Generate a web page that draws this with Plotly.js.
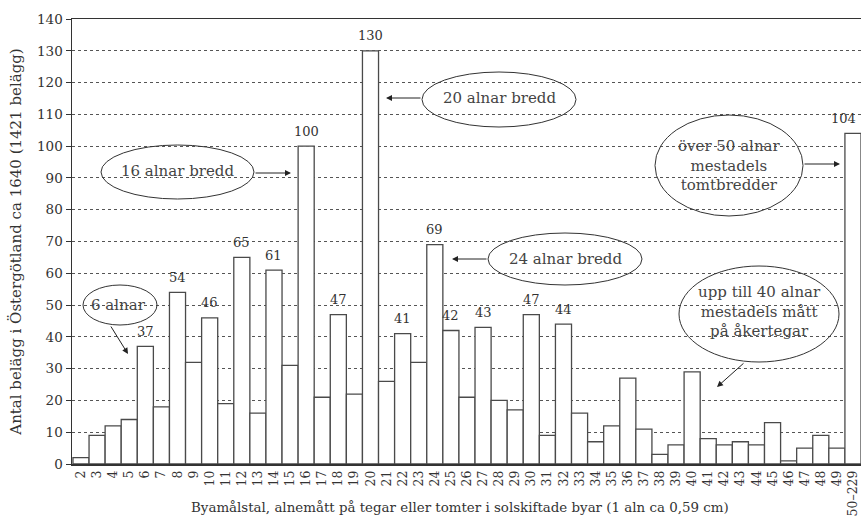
<!DOCTYPE html>
<html>
<head>
<meta charset="utf-8">
<script src="https://cdn.plot.ly/plotly-3.0.1.min.js"></script>
<style>html,body{margin:0;padding:0;background:#fff;}#chart{width:861px;height:521px;}</style>
</head>
<body>
<div id="chart"></div>
<script>
const categories = ['2','3','4','5','6','7','8','9','10','11','12','13','14','15','16','17','18','19','20','21','22','23','24','25','26','27','28','29','30','31','32','33','34','35','36','37','38','39','40','41','42','43','44','45','46','47','48','49','50–229'];
const counts = [2,9,12,14,37,18,54,32,46,19,65,16,61,31,100,21,47,22,130,26,41,32,69,42,21,43,20,17,47,9,44,16,7,12,27,11,3,6,29,8,6,7,6,13,1,5,9,5,104];
const labeledCategories = ['6','8','10','12','14','16','18','20','22','24','25','27','30','32','50–229'];
const yTickValues = [0,10,20,30,40,50,60,70,80,90,100,110,120,130,140];
const xTitle = 'Byamålstal, alnemått på tegar eller tomter i solskiftade byar (1 aln ca 0,59 cm)';
const yTitle = 'Antal belägg i Östergötland ca 1640 (1421 belägg)';

const FONT = 'DejaVu Serif, serif';
const TXT = '#333';

// plot-area pixel helpers (plot area: x 72..861, y 19..464)
const W = 861, H = 521, L = 72, T = 19, B = 57, R = 0;
const pw = W - L - R, ph = H - T - B;
const px = x => (x - L) / pw;
const py = y => (H - B - y) / ph;

const bubbles = [
  {x0:83, x1:157, y0:285, y1:325, text:'6 alnar', tx:118, ty:305, head:[128,354], tail:[110,325]},
  {x0:101, x1:254, y0:145, y1:199, text:'16 alnar bredd', tx:177, ty:171, head:[291,173], tail:[254,173]},
  {x0:422, x1:576, y0:72, y1:127, text:'20 alnar bredd', tx:499, ty:98, head:[386,98], tail:[422,98]},
  {x0:488, x1:642, y0:233, y1:285, text:'24 alnar bredd', tx:565, ty:259, head:[452,259], tail:[488,259]},
  {x0:679, x1:839, y0:266, y1:362, text:'upp till 40 alnar<br>mestadels mått<br>på åkertegar', tx:759, ty:311, head:[717,387], tail:[745,362]},
  {x0:655, x1:803, y0:115, y1:216, text:'över 50 alnar<br>mestadels<br>tomtbredder', tx:729, ty:165, head:[840,164], tail:[803,164]}
];

const shapes = bubbles.map(b => ({
  type:'circle', xref:'paper', yref:'paper',
  x0:px(b.x0), x1:px(b.x1), y0:py(b.y1), y1:py(b.y0),
  line:{color:'#333', width:1}, fillcolor:'rgba(0,0,0,0)', layer:'above'
}));

const annotations = [];
bubbles.forEach(b => {
  annotations.push({xref:'paper', yref:'paper', x:px(b.tx), y:py(b.ty), text:b.text, showarrow:false,
    xanchor:'center', yanchor:'middle', font:{family:FONT, size:15, color:'#444'}});
  annotations.push({xref:'paper', yref:'paper', x:px(b.head[0]), y:py(b.head[1]), text:'',
    showarrow:true, axref:'pixel', ayref:'pixel', ax:b.tail[0]-b.head[0], ay:b.tail[1]-b.head[1],
    arrowhead:2, arrowsize:1.2, arrowwidth:1, arrowcolor:'#222', standoff:0});
});
labeledCategories.forEach(c => {
  const i = categories.indexOf(c);
  annotations.push({xref:'x', yref:'y', x:i, y:counts[i], text:String(counts[i]), showarrow:false,
    xanchor:'center', yanchor:'middle', yshift:15, xshift:(i === categories.length-1 ? -9 : 0),
    font:{family:FONT, size:13, color:TXT}});
});
annotations.push({xref:'paper', yref:'paper', x:px(460), y:py(507), text:xTitle, showarrow:false,
  xanchor:'center', yanchor:'middle', font:{family:FONT, size:13.4, color:TXT}});

const trace = {
  type:'bar', x:categories, y:counts,
  marker:{color:'#ffffff', line:{color:'#4a4a4a', width:1.3}},
  hoverinfo:'x+y'
};

const layout = {
  width:W, height:H,
  margin:{l:L, r:R, t:T, b:B, pad:0},
  paper_bgcolor:'#fff', plot_bgcolor:'#fff',
  bargap:0, showlegend:false,
  font:{family:FONT, color:TXT},
  xaxis:{
    type:'category', range:[-0.56, 48.5], fixedrange:true,
    showline:true, linecolor:'#333', linewidth:1.5, mirror:true,
    showgrid:false, zeroline:false, ticks:'',
    tickangle:-90, tickfont:{family:FONT, size:12.5, color:TXT}
  },
  yaxis:{
    range:[0,140], fixedrange:true, tickvals:yTickValues,
    showline:true, linecolor:'#333', linewidth:1.5,
    ticks:'outside', ticklen:5, tickcolor:'#333',
    showgrid:true, gridcolor:'#555', gridwidth:1, griddash:'3px,3px',
    zeroline:false, tickfont:{family:FONT, size:13.5, color:TXT},
    title:{text:yTitle, font:{family:FONT, size:15, color:TXT}, standoff:12}
  },
  shapes:shapes, annotations:annotations
};

Plotly.newPlot('chart', [trace], layout, {displayModeBar:false, staticPlot:true});
</script>
</body>
</html>
